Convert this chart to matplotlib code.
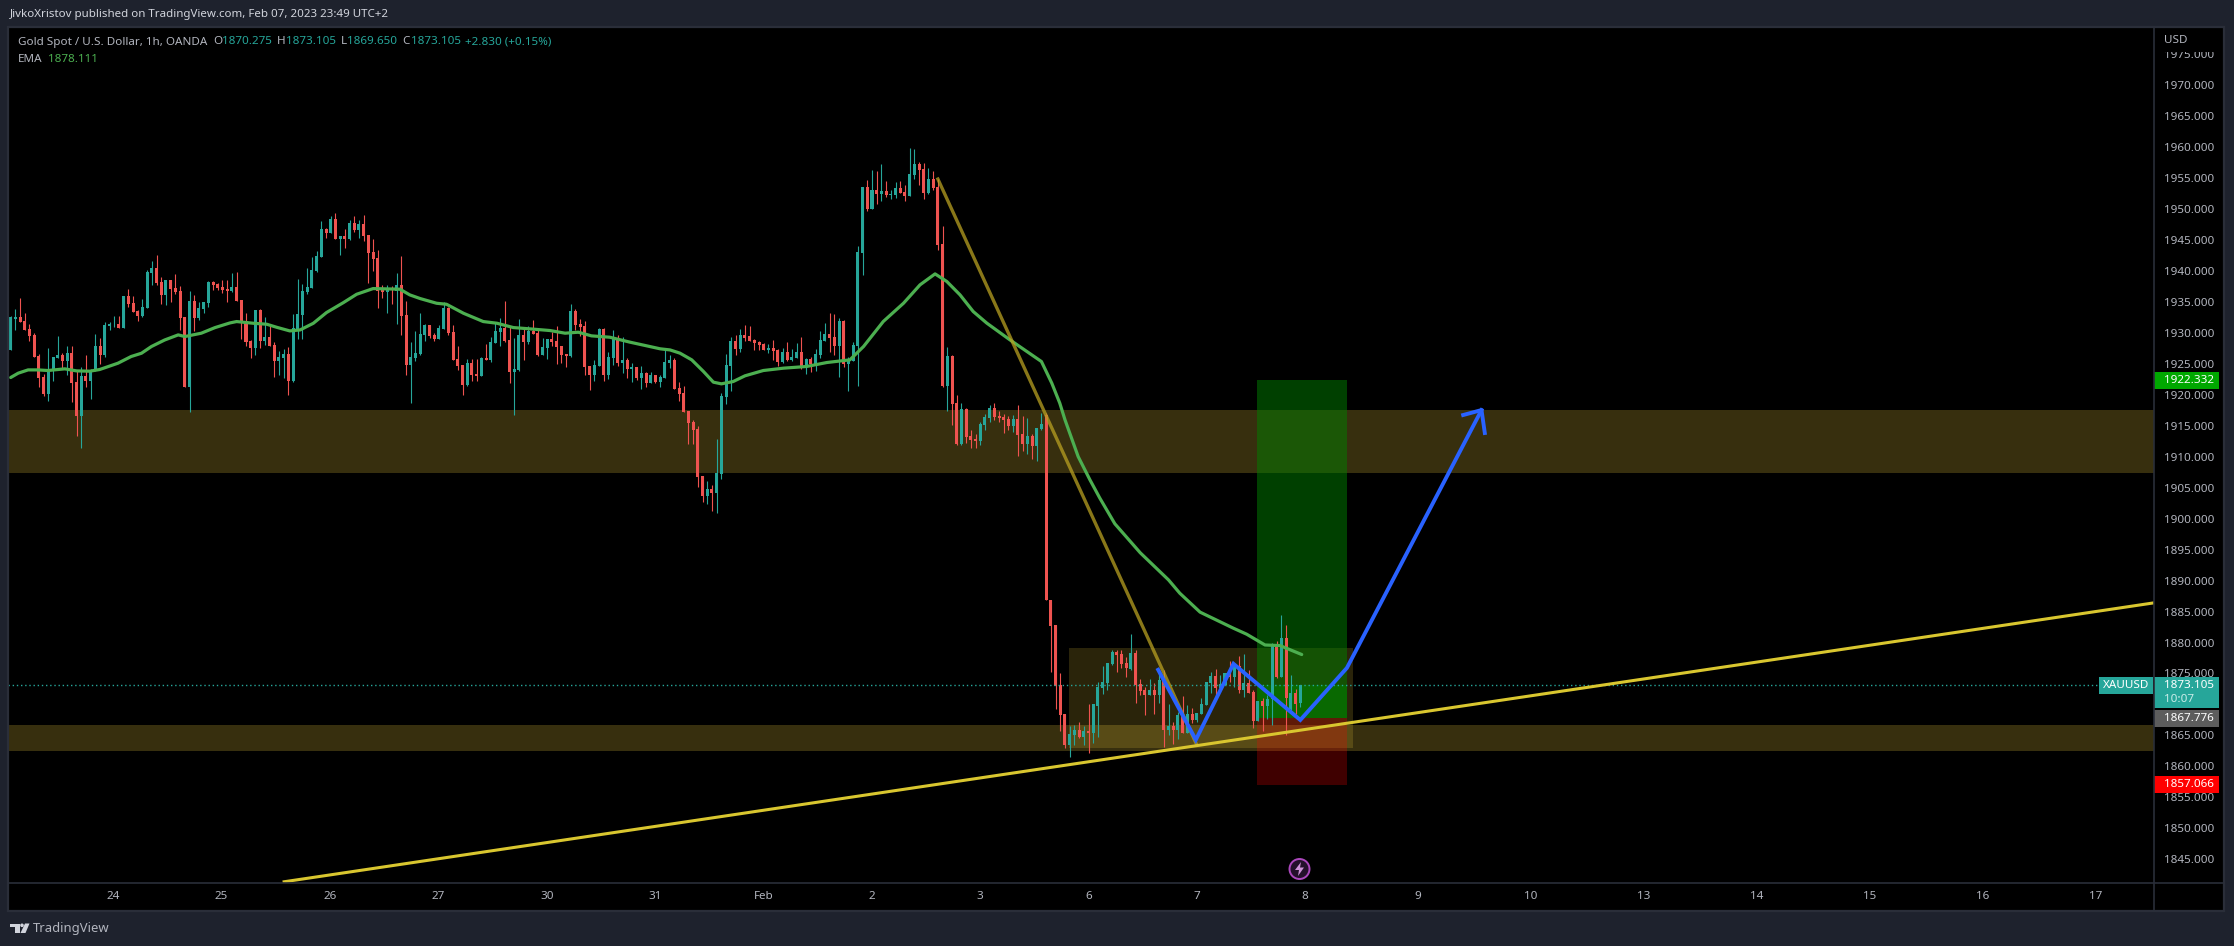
import matplotlib
matplotlib.use("Agg")
import numpy as np
import matplotlib.pyplot as plt
from matplotlib.patches import Rectangle, Circle, Polygon

FONT = "Noto Sans"
plt.rcParams["font.family"] = [FONT, "DejaVu Sans"]

W, H = 2234, 946
BAR_PX = 4.7067      # one hourly bar on screen
FIRST_PX = 10.67
PLOT_L, PLOT_R, PLOT_T, PLOT_B = 8, 2154, 27, 883

BG = "#1e222d"
BORDER = "#2a2e39"
TXT = "#b2b5be"
UP = "#26a69a"
DOWN = "#ef5350"

# hourly candles, one value per bar
opens = [
    1927.2,1932.2,1932.5,1931.9,1930.6,1929.6,1926.2,1922.9,1920.1,1923.8,
    1925.9,1926.4,1925.4,1926.7,1922.0,1916.6,1923.0,1922.2,1923.8,1927.9,
    1926.4,1931.1,1931.2,1931.4,1930.8,1935.9,1934.8,1933.5,1932.7,1934.0,
    1939.6,1940.4,1938.2,1936.1,1938.5,1937.2,1936.7,1932.5,1921.2,1935.1,
    1932.4,1933.8,1934.8,1938.2,1937.9,1937.4,1937.1,1936.7,1937.4,1935.3,
    1931.9,1928.7,1927.5,1933.7,1928.7,1929.3,1928.0,1925.4,1925.9,1926.6,
    1922.2,1930.4,1932.9,1936.6,1937.2,1939.9,1942.2,1946.7,1946.1,1948.3,
    1945.1,1945.6,1945.1,1947.7,1946.6,1947.5,1945.8,1943.0,1942.0,1936.9,
    1936.6,1937.0,1936.7,1937.7,1932.9,1924.8,1925.9,1926.6,1929.6,1931.2,
    1929.6,1929.0,1930.6,1934.0,1930.1,1925.8,1924.8,1921.6,1925.1,1923.3,
    1923.0,1925.9,1925.6,1928.3,1930.1,1930.8,1928.8,1923.7,1924.0,1929.6,
    1928.5,1930.3,1929.9,1926.4,1927.5,1929.0,1928.7,1927.9,1926.6,1926.2,
    1933.5,1931.4,1931.1,1924.6,1923.2,1924.6,1930.6,1923.2,1925.9,1929.1,
    1925.1,1925.6,1924.1,1924.5,1922.7,1923.5,1921.9,1923.2,1922.0,1922.7,
    1925.1,1925.6,1921.1,1920.3,1917.4,1915.6,1914.5,1906.9,1903.7,1904.8,
    1904.2,1907.2,1919.6,1924.6,1928.7,1927.4,1929.6,1929.5,1928.8,1928.5,
    1928.2,1927.2,1927.5,1927.2,1925.3,1926.9,1925.6,1925.9,1926.9,1924.6,
    1925.8,1925.0,1926.4,1928.7,1929.8,1929.3,1927.9,1931.9,1925.0,1925.4,
    1927.9,1942.9,1953.5,1950.0,1953.0,1952.4,1952.9,1952.2,1952.2,1953.3,
    1952.7,1952.1,1955.4,1957.2,1956.4,1952.5,1954.8,1953.5,1944.3,1921.4,
    1926.2,1918.7,1912.0,1917.7,1913.3,1912.9,1912.5,1915.1,1916.2,1917.9,
    1916.6,1916.4,1916.1,1915.0,1916.1,1913.7,1912.0,1913.3,1911.7,1914.5,
    1916.7,1886.9,1882.9,1873.2,1868.5,1863.5,1865.1,1865.9,1864.8,1865.8,
    1865.4,1869.8,1872.7,1873.5,1876.6,1878.5,1878.2,1876.7,1875.8,1878.3,
    1873.3,1872.4,1871.6,1872.4,1871.6,1874.0,1865.9,1866.5,1865.9,1868.3,
    1865.4,1868.5,1867.5,1868.5,1869.9,1873.5,1874.6,1872.7,1873.2,1875.1,
    1874.5,1876.2,1872.4,1873.5,1872.0,1867.4,1870.6,1869.8,1870.9,1879.6,
    1874.5,1880.7,1869.3,1871.9,1870.275,
]
closes = [
    1932.5,1932.5,1931.7,1930.4,1929.5,1926.1,1922.7,1920.1,1924.0,1926.1,
    1926.4,1925.4,1926.7,1921.9,1916.6,1923.0,1922.2,1923.8,1927.9,1926.4,
    1931.2,1931.4,1931.3,1930.8,1935.9,1934.6,1933.3,1932.7,1934.1,1939.8,
    1940.4,1938.0,1936.1,1938.5,1937.0,1936.6,1932.4,1921.2,1935.1,1932.4,
    1934.0,1934.9,1938.2,1937.7,1937.2,1936.9,1936.7,1937.4,1935.1,1931.7,
    1928.5,1927.5,1933.7,1928.7,1929.3,1927.9,1925.4,1926.1,1926.6,1922.2,
    1930.8,1933.0,1936.7,1937.4,1940.1,1942.4,1946.7,1946.1,1948.3,1945.1,
    1945.6,1945.1,1947.7,1946.6,1947.5,1945.6,1942.9,1941.9,1936.7,1936.6,
    1937.0,1936.8,1937.7,1932.7,1924.8,1926.1,1926.7,1929.8,1931.2,1929.5,
    1929.0,1930.8,1934.0,1930.0,1925.6,1924.6,1921.6,1925.1,1923.2,1923.0,
    1925.9,1925.6,1928.5,1930.3,1930.8,1928.7,1923.7,1924.1,1929.6,1928.5,
    1930.3,1929.8,1926.4,1927.7,1929.0,1928.5,1927.7,1926.4,1926.2,1933.5,
    1931.2,1930.9,1924.5,1923.2,1924.8,1930.6,1923.2,1926.1,1929.3,1925.1,
    1925.6,1924.1,1924.5,1922.7,1923.5,1921.9,1923.2,1922.0,1922.9,1925.3,
    1925.6,1920.9,1920.1,1917.2,1915.4,1914.3,1906.7,1903.7,1904.8,1904.2,
    1907.4,1919.8,1924.8,1928.7,1927.4,1929.6,1929.1,1928.7,1928.3,1928.0,
    1927.2,1927.5,1927.1,1925.3,1926.9,1925.6,1926.1,1926.9,1924.6,1925.8,
    1925.0,1926.6,1928.8,1929.8,1929.1,1927.9,1931.9,1925.0,1925.6,1928.0,
    1943.0,1953.5,1950.0,1953.0,1952.4,1952.9,1952.2,1952.4,1953.3,1952.5,
    1952.1,1955.6,1957.2,1956.2,1952.5,1954.8,1953.3,1944.2,1921.4,1926.2,
    1918.5,1912.0,1917.7,1913.2,1912.7,1912.5,1915.3,1916.4,1917.9,1916.4,
    1916.2,1915.9,1915.0,1916.1,1913.5,1912.0,1913.3,1911.7,1914.6,1915.3,
    1886.8,1882.7,1873.0,1868.3,1863.5,1865.3,1865.9,1864.8,1865.8,1865.4,
    1870.0,1872.9,1873.7,1876.7,1878.5,1878.0,1876.6,1875.9,1878.3,1873.2,
    1872.2,1871.6,1872.4,1871.6,1874.0,1865.9,1866.5,1865.9,1868.3,1865.4,
    1868.5,1867.5,1868.6,1870.1,1873.6,1874.6,1872.7,1873.3,1875.1,1874.5,
    1876.4,1872.4,1873.5,1871.9,1867.4,1870.6,1869.8,1870.9,1879.6,1874.5,
    1880.7,1871.0,1871.9,1870.1,1873.105,
]
highs = [
    1932.6,1933.8,1935.6,1933.1,1931.4,1930.0,1926.6,1923.3,1927.5,1926.1,
    1929.5,1926.7,1927.9,1927.9,1924.0,1924.5,1926.4,1924.2,1929.8,1929.1,
    1931.7,1931.7,1932.7,1932.7,1935.9,1937.0,1935.9,1933.7,1935.4,1940.1,
    1941.6,1942.5,1939.0,1938.5,1938.5,1939.5,1937.5,1932.5,1936.7,1936.1,
    1934.9,1934.9,1938.3,1938.3,1938.0,1938.5,1938.5,1939.6,1939.8,1935.3,
    1933.2,1928.8,1933.7,1933.8,1932.5,1931.4,1928.5,1927.0,1927.4,1927.7,
    1933.0,1938.7,1937.9,1940.4,1942.2,1943.2,1948.0,1946.9,1948.8,1949.3,
    1945.6,1946.7,1948.2,1948.8,1948.2,1949.0,1945.8,1945.1,1943.3,1937.7,
    1937.7,1937.5,1939.6,1942.4,1935.1,1928.5,1930.3,1933.2,1931.4,1931.2,
    1930.0,1931.2,1934.9,1934.1,1931.2,1927.8,1924.8,1925.8,1925.8,1925.8,
    1926.1,1928.2,1929.3,1931.7,1932.4,1935.1,1931.1,1929.1,1932.2,1930.9,
    1931.1,1932.0,1930.6,1929.1,1929.0,1930.1,1931.1,1927.9,1926.6,1934.6,
    1933.8,1932.2,1931.9,1924.6,1925.6,1930.8,1930.8,1926.9,1930.4,1929.6,
    1929.3,1925.9,1925.1,1924.5,1924.6,1923.7,1923.7,1923.2,1923.2,1927.4,
    1926.4,1925.9,1922.0,1921.4,1917.4,1915.9,1915.0,1906.9,1906.1,1905.4,
    1912.9,1920.3,1926.6,1929.3,1929.6,1930.6,1931.2,1931.1,1929.0,1928.7,
    1928.3,1928.2,1928.8,1927.4,1927.5,1928.5,1927.4,1928.3,1929.3,1925.9,
    1926.1,1927.4,1930.3,1931.6,1933.2,1933.0,1932.4,1932.0,1926.1,1928.5,
    1944.0,1953.5,1954.6,1956.2,1956.1,1957.2,1954.5,1953.0,1954.3,1954.5,
    1953.8,1959.8,1959.6,1957.5,1957.4,1956.6,1956.1,1954.8,1947.2,1927.7,
    1926.4,1920.0,1918.7,1917.9,1914.3,1913.7,1915.6,1916.9,1918.3,1918.7,
    1917.4,1916.9,1916.6,1916.7,1918.3,1916.6,1916.2,1913.7,1914.6,1917.1,
    1917.0,1886.9,1882.9,1875.1,1868.5,1866.6,1866.7,1867.2,1866.6,1870.1,
    1870.1,1873.7,1876.2,1876.7,1878.8,1878.8,1878.8,1877.7,1881.4,1878.8,
    1874.1,1872.9,1874.1,1873.5,1875.6,1875.6,1870.1,1867.2,1868.8,1871.4,
    1869.9,1869.5,1868.6,1871.1,1873.6,1875.3,1875.7,1874.8,1875.1,1877.0,
    1876.7,1877.8,1878.2,1875.6,1872.4,1870.6,1871.1,1871.6,1879.9,1880.3,
    1884.5,1882.8,1874.8,1872.5,1873.105,
]
lows = [
    1927.2,1930.4,1931.7,1930.4,1928.7,1926.1,1921.2,1919.8,1919.0,1922.2,
    1925.9,1924.3,1923.2,1918.8,1913.3,1911.4,1921.2,1919.3,1923.8,1925.0,
    1926.1,1930.4,1930.9,1930.8,1930.8,1934.1,1933.3,1931.9,1932.5,1934.0,
    1937.7,1937.7,1934.6,1934.5,1934.9,1936.2,1930.4,1921.2,1917.2,1930.3,
    1932.1,1933.2,1934.1,1936.9,1936.9,1936.4,1934.9,1936.6,1935.1,1929.0,
    1927.8,1925.9,1926.4,1927.5,1928.0,1927.9,1922.9,1923.2,1922.7,1920.0,
    1922.0,1929.0,1929.0,1936.2,1937.2,1939.8,1942.2,1945.3,1946.1,1945.1,
    1942.5,1943.7,1945.0,1946.2,1945.3,1944.8,1938.0,1940.0,1934.0,1935.6,
    1933.2,1934.6,1931.4,1929.6,1923.2,1918.7,1925.4,1926.4,1928.7,1929.1,
    1928.7,1929.0,1930.6,1929.6,1925.6,1924.0,1920.0,1921.4,1922.2,1922.2,
    1923.0,1925.6,1925.3,1928.3,1927.9,1928.5,1921.9,1916.7,1923.8,1925.6,
    1928.2,1929.8,1926.2,1926.4,1925.8,1927.9,1925.0,1925.1,1924.5,1926.1,
    1930.4,1929.5,1923.2,1920.8,1922.2,1924.6,1922.2,1922.5,1924.8,1924.6,
    1923.5,1922.7,1922.0,1922.4,1920.9,1921.2,1921.9,1921.9,1921.2,1922.7,
    1924.3,1920.9,1919.0,1917.2,1912.0,1912.0,1905.1,1902.7,1902.4,1901.2,
    1900.9,1906.4,1918.5,1920.6,1926.4,1926.9,1928.7,1928.7,1927.2,1927.2,
    1927.2,1926.7,1925.6,1924.6,1925.1,1925.4,1925.4,1925.9,1924.1,1923.3,
    1923.7,1923.8,1925.9,1928.7,1926.9,1926.4,1922.9,1924.5,1920.6,1925.4,
    1921.4,1939.3,1949.6,1950.0,1950.8,1951.2,1951.9,1951.6,1951.7,1952.5,
    1951.2,1952.1,1954.8,1953.8,1951.6,1952.4,1953.0,1943.4,1921.2,1917.4,
    1915.1,1911.9,1911.9,1912.2,1911.4,1911.4,1911.9,1914.3,1915.6,1915.9,
    1915.6,1913.8,1914.3,1914.0,1910.1,1910.9,1910.4,1909.6,1909.3,1914.3,
    1886.8,1875.3,1869.3,1865.8,1862.9,1861.6,1863.5,1864.6,1863.5,1862.2,
    1863.8,1864.8,1871.7,1872.4,1876.4,1875.3,1875.9,1874.5,1875.6,1870.3,
    1871.6,1868.3,1871.6,1868.5,1870.3,1863.2,1865.1,1863.7,1864.4,1865.4,
    1865.4,1867.0,1867.2,1868.5,1869.9,1871.9,1871.2,1872.7,1873.2,1873.6,
    1872.8,1871.9,1871.2,1871.9,1866.2,1867.4,1865.7,1867.7,1866.7,1874.3,
    1874.5,1865.1,1869.1,1868.5,1869.65,
]

# EMA read at the bends of the curve
ema_bars = [
    0,1.6,3.7,5.8,7.9,11.5,14,16.8,18.9,22.8,25.6,27.8,29.9,32.7,35.6,37,40.5,43.4,
    46.6,48,51.6,54.4,56.5,59.3,61.5,64.3,67.1,70.7,73.5,77,82.7,84.8,87,90.5,92.6,
    96.2,100.4,103.3,106.8,110.3,114.6,117.8,120.6,123.4,127.3,131.6,135.8,138,140.1,142.2,
    144.7,147.2,149.3,151,153.5,156,159.9,164.2,169.1,173.4,178.3,181.2,185.4,189.7,
    193.2,196.4,198.9,201.7,204.5,207.4,212.3,215.9,219,221.2,222.9,224,226.8,229.3,
    231.4,234.6,240,246,248.4,252.7,259.8,262.6,266.5,269.7,274.3,
]
ema_vals = [
    1922.75,1923.45,1923.98,1923.98,1923.88,1924.15,1923.82,1923.77,1924.04,1925.06,
    1926.14,1926.67,1927.75,1928.8,1929.63,1929.36,1929.9,1930.8,
    1931.56,1931.78,1931.5,1931.35,1930.86,1930.27,1930.43,1931.5,1933.23,1934.84,
    1936.18,1937.1,1937.0,1936.08,1935.49,1934.73,1934.57,
    1933.12,1931.78,1931.51,1930.81,1930.6,1930.33,1929.9,1930.06,1929.47,1929.25,
    1928.45,1927.75,1927.38,1927.2,1926.68,
    1925.6,1923.72,1922.0,1921.73,1922.1,1923.02,1923.88,1924.26,1924.53,1925.17,
    1925.6,1927.75,1931.79,1934.74,
    1937.7,1939.47,1938.24,1936.09,1933.4,1931.52,1928.83,1926.95,1925.33,1921.84,
    1918.61,1915.93,1910.0,1906.25,
    1903.3,1899.15,1894.47,1890.1,1887.95,1884.9,1882.3,1881.34,1879.6,1879.5,1878.06,
]

# price ticks and date ticks
price_ticks = list(range(1845, 1980, 5))
date_labels = ["24","25","26","27","30","31","Feb","2","3","6","7","8","9","10","13","14","15","16","17"]
date_bars = [21.8,44.8,67.8,90.8,114,137,160,183,206,229,252,275,299,323,347,371,395,419,443]

# drawings, in (bar, price)
zone_upper = (1907.37, 1917.5)
zone_lower = (1862.5, 1866.73)
box_bars = (224.86, 285.2)
box_prices = (1863.0, 1879.15)
pos_bars = (264.8, 283.9)
pos_target = 1922.332
pos_entry = 1867.776
pos_stop = 1857.066
last_close = 1873.105
fall_bars = [197.0, 251.9]
fall_prices = [1954.77, 1863.66]
trend_bars = [58.1, 455.4]
trend_prices = [1841.4, 1886.4]
path_bars = [243.8, 251.8, 259.8, 274.0, 283.9, 312.5]
path_prices = [1875.6, 1864.3, 1876.56, 1867.5, 1875.9, 1917.5]
head_bars = [308.6, 312.5, 313.2]
head_prices = [1916.7, 1917.5, 1913.8]


def px_axes(fig, z):
    a = fig.add_axes([0, 0, 1, 1], zorder=z)
    a.set_xlim(0, W)
    a.set_ylim(H, 0)
    a.axis("off")
    a.patch.set_alpha(0)
    return a


fig = plt.figure(figsize=(W / 100, H / 100), dpi=100, facecolor=BG)

under = px_axes(fig, 0)
under.add_patch(Rectangle((8, 27), 2216, 884, fc="black", ec="none"))

ax = fig.add_axes([PLOT_L / W, 1 - PLOT_B / H, (PLOT_R - PLOT_L) / W, (PLOT_B - PLOT_T) / H], zorder=1)
ax.set_facecolor("black")
for s in ax.spines.values():
    s.set_visible(False)
ax.set_xlim((PLOT_L - FIRST_PX) / BAR_PX, (PLOT_R - FIRST_PX) / BAR_PX)
ax.set_ylim(1841.2, 1979.3)

# zones and the position tool sit under the candles
OLIVE = "#ffda40"
ax.axhspan(*zone_upper, color=OLIVE, alpha=0.22, lw=0, zorder=1)
ax.axhspan(*zone_lower, color=OLIVE, alpha=0.22, lw=0, zorder=1)
ax.add_patch(Rectangle((box_bars[0], box_prices[0]), box_bars[1] - box_bars[0], box_prices[1] - box_prices[0],
                       fc=OLIVE, alpha=0.17, lw=0, zorder=1))

pw = pos_bars[1] - pos_bars[0]
ax.add_patch(Rectangle((pos_bars[0], pos_entry), pw, pos_target - pos_entry, fc="#008000", alpha=0.5, lw=0, zorder=1.2))
ax.add_patch(Rectangle((pos_bars[0], pos_entry), pw, last_close - pos_entry, fc="#008000", alpha=0.5, lw=0, zorder=1.2))
ax.add_patch(Rectangle((pos_bars[0], pos_stop), pw, pos_entry - pos_stop, fc="#ff0000", alpha=0.25, lw=0, zorder=1.2))

o = np.array(opens)
c = np.array(closes)
hi = np.array(highs)
lo = np.array(lows)
x = np.arange(len(o))
cols = np.where(c >= o, UP, DOWN)

ax.vlines(x, lo, hi, colors=cols, lw=0.8, zorder=2)
ax.bar(x, np.abs(c - o), bottom=np.minimum(o, c), width=0.64, color=cols, lw=0, zorder=2)
ax.plot(ema_bars, ema_vals, color="#4caf50", lw=2.3, zorder=2.5, solid_capstyle="round")

ax.axhline(last_close, xmax=(2099 - PLOT_L) / (PLOT_R - PLOT_L), color=UP, lw=1, ls=(0, (1, 2)), zorder=2.6)

ax.plot(fall_bars, fall_prices, color="#b8a021", alpha=0.75, lw=2.4, zorder=4)
ax.plot(trend_bars, trend_prices, color="#d9c62f", lw=2.2, zorder=5)
ax.plot(path_bars, path_prices, color="#2962ff", lw=2.8, zorder=6, solid_joinstyle="miter")
ax.plot(head_bars, head_prices, color="#2962ff", lw=2.8, zorder=6)

ax.yaxis.tick_right()
ax.set_yticks(price_ticks)
ax.set_yticklabels([f"{p}.000" for p in price_ticks], fontsize=8.4, color=TXT)
ax.set_xticks(date_bars)
ax.set_xticklabels(date_labels, fontsize=8.4, color=TXT)
ax.tick_params(axis="y", length=0, pad=7.2)
ax.tick_params(axis="x", length=0, pad=5.5)

top = px_axes(fig, 2)
# the top tick sits half under the currency caption
top.add_patch(Rectangle((2156, 29), 66, 23, fc="black", ec="none"))
top.add_patch(Rectangle((8, 27), 2216, 884, fc="none", ec=BORDER, lw=1.6))
top.plot([2154, 2154], [27, 911], color=BORDER, lw=1.2)
top.plot([8, 2224], [883, 883], color=BORDER, lw=1.2)

top.text(2164, 40.5, "USD", color=TXT, fontsize=8.4, va="center")


def tag(y0, y1, fc, text, tc="white", weight="normal"):
    top.add_patch(Rectangle((2154, y0), 65, y1 - y0, fc=fc, ec="none"))
    top.text(2164, (y0 + y1) / 2 - 0.5, text, color=tc, fontsize=8.4, va="center", fontweight=weight)


tag(372, 389, "#00a800", "1922.332")
tag(710, 727, "#5d5d5d", "1867.776")
tag(776, 793, "#ff0000", "1857.066")
top.add_patch(Rectangle((2154, 677), 65, 31, fc=UP, ec="none"))
top.text(2164, 685.5, "1873.105", color="white", fontsize=8.4, va="center")
top.text(2164, 699.5, "10:07", color="#c9ece8", fontsize=8.4, va="center")
top.add_patch(Rectangle((2099, 677), 54, 17, fc=UP, ec="none"))
top.text(2126, 685.5, "XAUUSD", color="white", fontsize=8.4, va="center", ha="center")

# header and legend
top.text(9.5, 14.7, "JivkoXristov published on TradingView.com, Feb 07, 2023 23:49 UTC+2",
         color="#d1d4dc", fontsize=8.3, va="center")
top.text(18, 42, "Gold Spot / U.S. Dollar, 1h, OANDA", color=TXT, fontsize=8.4, va="center")
legend_parts = [
    (213, "O", TXT), (222, "1870.275", UP), (277, "H", TXT), (286, "1873.105", UP),
    (340.5, "L", TXT), (347, "1869.650", UP), (402.5, "C", TXT), (410.5, "1873.105", UP),
    (465, "+2.830 (+0.15%)", UP),
]
for lx, s, col in legend_parts:
    top.text(lx, 42, s, color=col, fontsize=8.4, va="center")
top.text(18, 59, "EMA", color=TXT, fontsize=8.4, va="center")
top.text(48, 59, "1878.111", color="#4caf50", fontsize=8.4, va="center")

# lightning badge on the time axis side
top.add_patch(Circle((1299.5, 869), 10, fc="#24102b", ec="#ab47bc", lw=1.4))
top.add_patch(Polygon([(1301, 862), (1295, 870), (1299, 870), (1298, 876), (1304, 867.5), (1300, 867.5)],
                      fc="#ce93d8", ec="none"))

# footer logo
top.add_patch(Polygon([(10, 923.5), (19.5, 923.5), (19.5, 933), (15, 933), (15, 927), (10, 927)], fc="#d1d4dc", ec="none"))
top.add_patch(Circle((22, 925.3), 1.8, fc="#d1d4dc", ec="none"))
top.add_patch(Polygon([(25, 923.5), (29.5, 923.5), (25.5, 933), (20.5, 933)], fc="#d1d4dc", ec="none"))
top.text(33, 928, "TradingView", color=TXT, fontsize=9.4, va="center")

fig.savefig("out.png", dpi=100, facecolor=BG)
